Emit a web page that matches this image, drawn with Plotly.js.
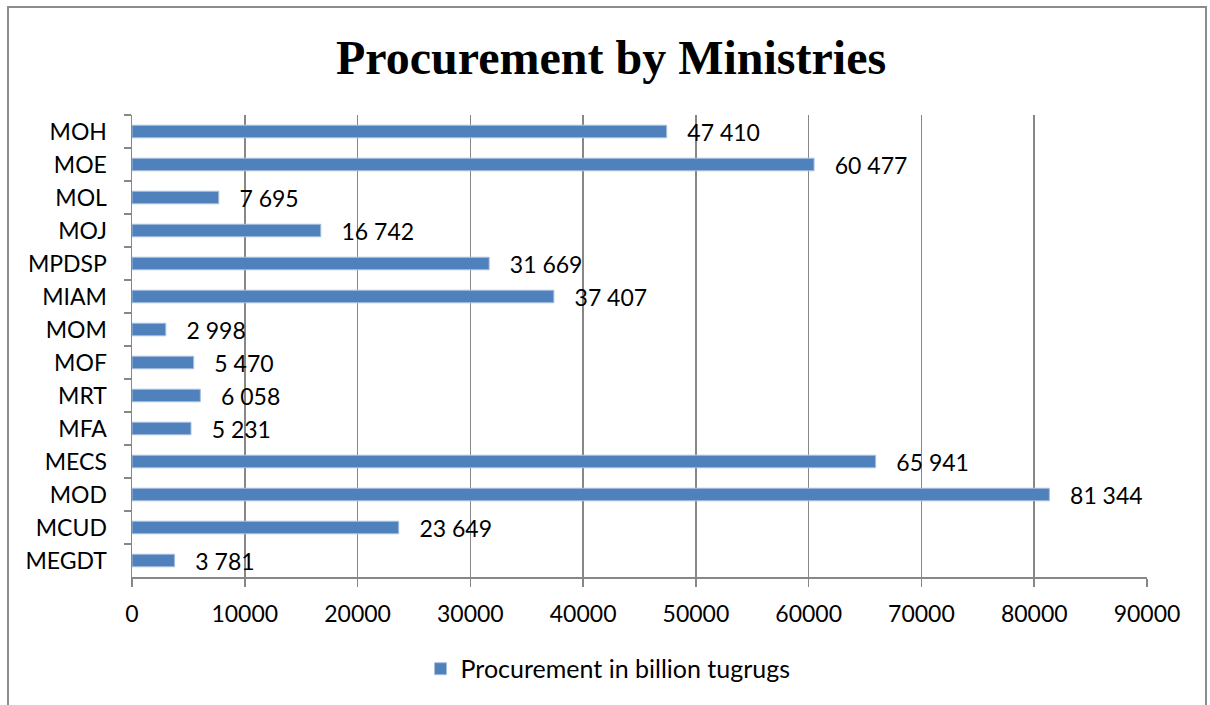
<!DOCTYPE html>
<html>
<head>
<meta charset="utf-8">
<script src="https://cdn.plot.ly/plotly-3.0.1.min.js"></script>
<style>
html, body { margin: 0; padding: 0; background: #fff; }
#wrap { position: relative; width: 1210px; height: 705px; overflow: hidden; }
#chart { width: 1210px; height: 705px; }
#frame { position: absolute; left: 7px; top: 6px; width: 1200px; height: 760px; border: 2px solid #8c8c8c; pointer-events: none; box-sizing: border-box; }
</style>
</head>
<body>
<div id="wrap">
<div id="chart"></div>
<div id="frame"></div>
</div>
<script>
const ministries = ["MOH", "MOE", "MOL", "MOJ", "MPDSP", "MIAM", "MOM", "MOF", "MRT", "MFA", "MECS", "MOD", "MCUD", "MEGDT"];
const procurement = [47410, 60477, 7695, 16742, 31669, 37407, 2998, 5470, 6058, 5231, 65941, 81344, 23649, 3781];
const seriesName = "Procurement in billion tugrugs";
const chartTitle = "Procurement by Ministries";
const xTicks = [0, 10000, 20000, 30000, 40000, 50000, 60000, 70000, 80000, 90000];

const FONT = "Lato, Calibri, 'Open Sans', sans-serif";
const GRAY = "#878787";

const trace = {
  type: "bar",
  orientation: "h",
  y: ministries,
  x: procurement,
  name: seriesName,
  marker: { color: "#4F81BD", line: { color: "#A9C0DE", width: 1 } },
  texttemplate: "\u00a0\u00a0\u00a0%{x:,}",
  textposition: "outside",
  constraintext: "none",
  cliponaxis: false,
  textfont: { family: FONT, size: 23, color: "#000" },
  hoverinfo: "x+y",
  showlegend: true
};

const layout = {
  width: 1210,
  height: 705,
  paper_bgcolor: "#fff",
  plot_bgcolor: "#fff",
  separators: ". ",
  margin: { l: 132, r: 63, t: 115, b: 128 },
  title: {
    text: "<b>" + chartTitle + "</b>",
    font: { family: "'Liberation Serif', 'Times New Roman', serif", size: 48, color: "#000" },
    x: 0.472, xanchor: "center", xref: "paper",
    y: 0.919, yanchor: "middle", yref: "container"
  },
  bargap: 0.62,
  xaxis: {
    range: [0, 90000],
    tickvals: xTicks,
    tickformat: "d",
    showgrid: true,
    gridcolor: GRAY,
    gridwidth: 1.5,
    zeroline: false,
    showline: true,
    linecolor: GRAY,
    linewidth: 1.5,
    ticks: "outside",
    ticklen: 8,
    tickcolor: GRAY,
    tickwidth: 1.5,
    ticklabelstandoff: 8,
    tickfont: { family: FONT, size: 23, color: "#000" },
    fixedrange: true
  },
  yaxis: {
    type: "category",
    autorange: "reversed",
    showgrid: false,
    zeroline: false,
    showline: true,
    linecolor: GRAY,
    linewidth: 1.5,
    ticks: "outside",
    tickson: "boundaries",
    ticklen: 7,
    tickcolor: GRAY,
    tickwidth: 1.5,
    ticklabelstandoff: 19,
    tickfont: { family: FONT, size: 23, color: "#000" },
    fixedrange: true
  },
  showlegend: true,
  legend: {
    orientation: "h",
    x: 0.469, xanchor: "center",
    y: -0.199, yanchor: "middle",
    font: { family: FONT, size: 25, color: "#000" },
    bgcolor: "rgba(0,0,0,0)"
  }
};

Plotly.newPlot("chart", [trace], layout, { displayModeBar: false, staticPlot: true });
</script>
</body>
</html>
